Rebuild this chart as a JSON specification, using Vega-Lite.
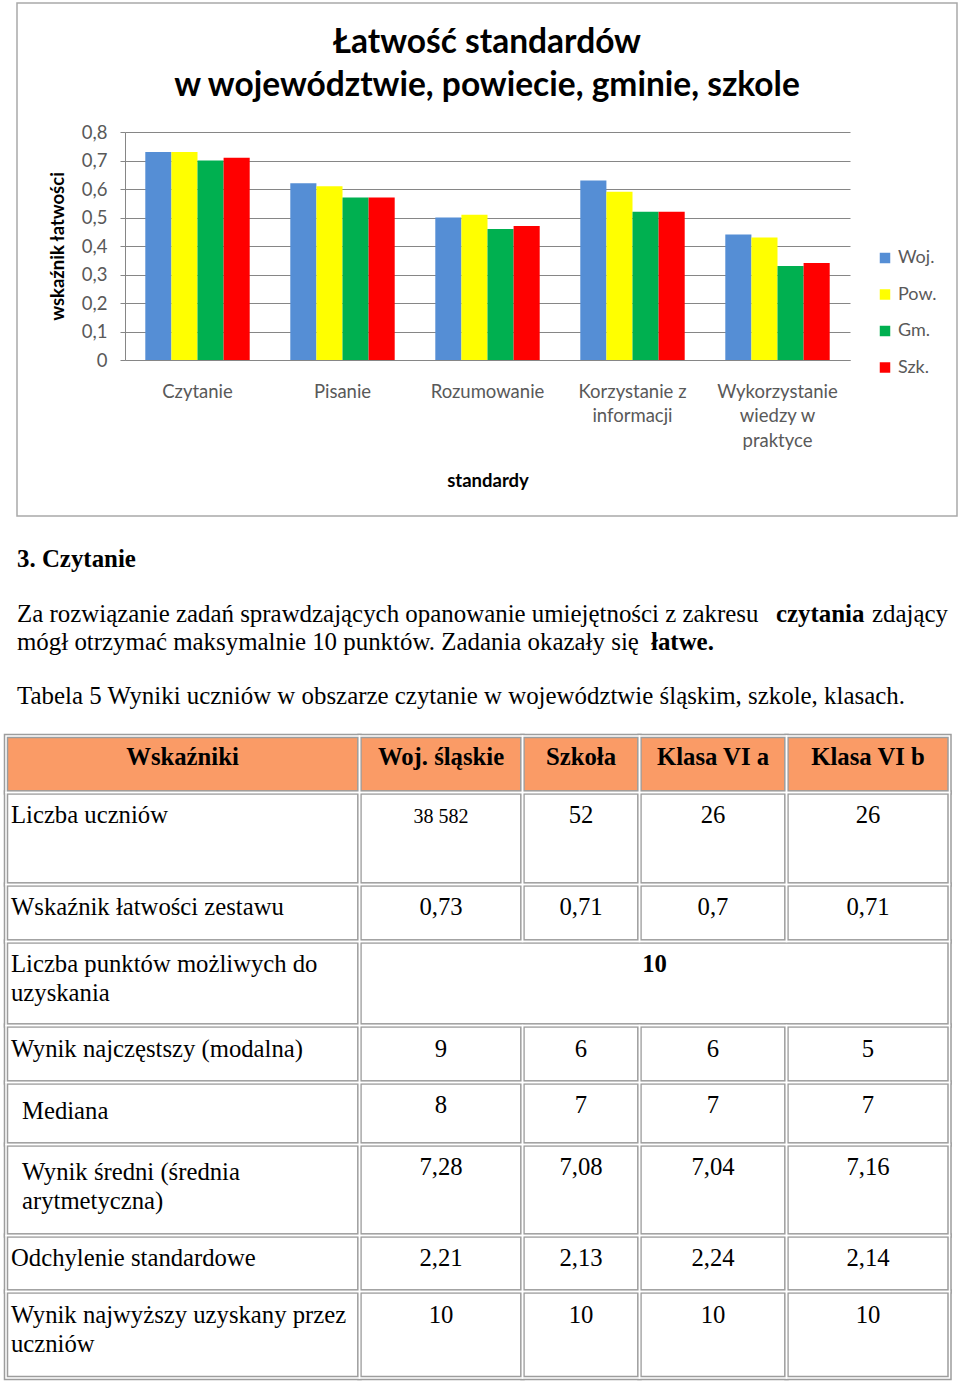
{
  "$schema": "https://vega.github.io/schema/vega-lite/v6.json",
  "width": 960,
  "height": 1382,
  "autosize": "none",
  "padding": 0,
  "background": "#ffffff",
  "config": {"view": {"stroke": null}},
  "datasets": {
    "bars": [
      {"standard": "Czytanie", "series": "Woj.", "value": 0.73},
      {"standard": "Czytanie", "series": "Pow.", "value": 0.73},
      {"standard": "Czytanie", "series": "Gm.", "value": 0.70},
      {"standard": "Czytanie", "series": "Szk.", "value": 0.71},
      {"standard": "Pisanie", "series": "Woj.", "value": 0.62},
      {"standard": "Pisanie", "series": "Pow.", "value": 0.61},
      {"standard": "Pisanie", "series": "Gm.", "value": 0.57},
      {"standard": "Pisanie", "series": "Szk.", "value": 0.57},
      {"standard": "Rozumowanie", "series": "Woj.", "value": 0.50},
      {"standard": "Rozumowanie", "series": "Pow.", "value": 0.51},
      {"standard": "Rozumowanie", "series": "Gm.", "value": 0.46},
      {"standard": "Rozumowanie", "series": "Szk.", "value": 0.47},
      {"standard": "Korzystanie z informacji", "series": "Woj.", "value": 0.63},
      {"standard": "Korzystanie z informacji", "series": "Pow.", "value": 0.59},
      {"standard": "Korzystanie z informacji", "series": "Gm.", "value": 0.52},
      {"standard": "Korzystanie z informacji", "series": "Szk.", "value": 0.52},
      {"standard": "Wykorzystanie wiedzy w praktyce", "series": "Woj.", "value": 0.44},
      {"standard": "Wykorzystanie wiedzy w praktyce", "series": "Pow.", "value": 0.43},
      {"standard": "Wykorzystanie wiedzy w praktyce", "series": "Gm.", "value": 0.33},
      {"standard": "Wykorzystanie wiedzy w praktyce", "series": "Szk.", "value": 0.34}
    ],
    "chartTitle": [
      {"title": "Łatwość standardów", "line": 0},
      {"title": "w województwie, powiecie, gminie, szkole", "line": 1}
    ],
    "bodyText": [
      {"line": 0, "seg": 0, "weight": "bold", "text": "3. Czytanie"},
      {"line": 1, "seg": 0, "weight": "normal", "text": "Za rozwiązanie zadań sprawdzających opanowanie umiejętności z zakresu"},
      {"line": 1, "seg": 2, "weight": "bold", "text": "czytania"},
      {"line": 1, "seg": 3, "weight": "normal", "text": "zdający"},
      {"line": 2, "seg": 0, "weight": "normal", "text": "mógł otrzymać maksymalnie 10 punktów. Zadania okazały się"},
      {"line": 2, "seg": 1, "weight": "bold", "text": "łatwe."},
      {"line": 3, "seg": 0, "weight": "normal", "text": "Tabela 5 Wyniki uczniów w obszarze czytanie w województwie śląskim, szkole, klasach."}
    ],
    "cells": [
      {"r0": 0, "r1": 1, "c0": 0, "c1": 1, "part": "header"},
      {"r0": 0, "r1": 1, "c0": 1, "c1": 2, "part": "header"},
      {"r0": 0, "r1": 1, "c0": 2, "c1": 3, "part": "header"},
      {"r0": 0, "r1": 1, "c0": 3, "c1": 4, "part": "header"},
      {"r0": 0, "r1": 1, "c0": 4, "c1": 5, "part": "header"},
      {"r0": 1, "r1": 2, "c0": 0, "c1": 1, "part": "body"},
      {"r0": 1, "r1": 2, "c0": 1, "c1": 2, "part": "body"},
      {"r0": 1, "r1": 2, "c0": 2, "c1": 3, "part": "body"},
      {"r0": 1, "r1": 2, "c0": 3, "c1": 4, "part": "body"},
      {"r0": 1, "r1": 2, "c0": 4, "c1": 5, "part": "body"},
      {"r0": 2, "r1": 3, "c0": 0, "c1": 1, "part": "body"},
      {"r0": 2, "r1": 3, "c0": 1, "c1": 2, "part": "body"},
      {"r0": 2, "r1": 3, "c0": 2, "c1": 3, "part": "body"},
      {"r0": 2, "r1": 3, "c0": 3, "c1": 4, "part": "body"},
      {"r0": 2, "r1": 3, "c0": 4, "c1": 5, "part": "body"},
      {"r0": 3, "r1": 4, "c0": 0, "c1": 1, "part": "body"},
      {"r0": 3, "r1": 4, "c0": 1, "c1": 5, "part": "body"},
      {"r0": 4, "r1": 5, "c0": 0, "c1": 1, "part": "body"},
      {"r0": 4, "r1": 5, "c0": 1, "c1": 2, "part": "body"},
      {"r0": 4, "r1": 5, "c0": 2, "c1": 3, "part": "body"},
      {"r0": 4, "r1": 5, "c0": 3, "c1": 4, "part": "body"},
      {"r0": 4, "r1": 5, "c0": 4, "c1": 5, "part": "body"},
      {"r0": 5, "r1": 6, "c0": 0, "c1": 1, "part": "body"},
      {"r0": 5, "r1": 6, "c0": 1, "c1": 2, "part": "body"},
      {"r0": 5, "r1": 6, "c0": 2, "c1": 3, "part": "body"},
      {"r0": 5, "r1": 6, "c0": 3, "c1": 4, "part": "body"},
      {"r0": 5, "r1": 6, "c0": 4, "c1": 5, "part": "body"},
      {"r0": 6, "r1": 7, "c0": 0, "c1": 1, "part": "body"},
      {"r0": 6, "r1": 7, "c0": 1, "c1": 2, "part": "body"},
      {"r0": 6, "r1": 7, "c0": 2, "c1": 3, "part": "body"},
      {"r0": 6, "r1": 7, "c0": 3, "c1": 4, "part": "body"},
      {"r0": 6, "r1": 7, "c0": 4, "c1": 5, "part": "body"},
      {"r0": 7, "r1": 8, "c0": 0, "c1": 1, "part": "body"},
      {"r0": 7, "r1": 8, "c0": 1, "c1": 2, "part": "body"},
      {"r0": 7, "r1": 8, "c0": 2, "c1": 3, "part": "body"},
      {"r0": 7, "r1": 8, "c0": 3, "c1": 4, "part": "body"},
      {"r0": 7, "r1": 8, "c0": 4, "c1": 5, "part": "body"},
      {"r0": 8, "r1": 9, "c0": 0, "c1": 1, "part": "body"},
      {"r0": 8, "r1": 9, "c0": 1, "c1": 2, "part": "body"},
      {"r0": 8, "r1": 9, "c0": 2, "c1": 3, "part": "body"},
      {"r0": 8, "r1": 9, "c0": 3, "c1": 4, "part": "body"},
      {"r0": 8, "r1": 9, "c0": 4, "c1": 5, "part": "body"}
    ],
    "cellText": [
      {"row": 0, "col": 0, "part": "header", "text": "Wskaźniki"},
      {"row": 0, "col": 1, "part": "header", "text": "Woj. śląskie"},
      {"row": 0, "col": 2, "part": "header", "text": "Szkoła"},
      {"row": 0, "col": 3, "part": "header", "text": "Klasa VI a"},
      {"row": 0, "col": 4, "part": "header", "text": "Klasa VI b"},
      {"row": 1, "col": 0, "part": "label", "text": "Liczba uczniów"},
      {"row": 2, "col": 0, "part": "label", "text": "Wskaźnik łatwości zestawu"},
      {"row": 3, "col": 0, "part": "label", "text": "Liczba punktów możliwych do\nuzyskania"},
      {"row": 4, "col": 0, "part": "label", "text": "Wynik najczęstszy (modalna)"},
      {"row": 5, "col": 0, "part": "label indented", "text": "Mediana"},
      {"row": 6, "col": 0, "part": "label indented", "text": "Wynik średni (średnia\narytmetyczna)"},
      {"row": 7, "col": 0, "part": "label", "text": "Odchylenie standardowe"},
      {"row": 8, "col": 0, "part": "label", "text": "Wynik najwyższy uzyskany przez\nuczniów"},
      {"row": 1, "col": 1, "part": "value", "text": "38 582"},
      {"row": 1, "col": 2, "part": "value", "text": "52"},
      {"row": 1, "col": 3, "part": "value", "text": "26"},
      {"row": 1, "col": 4, "part": "value", "text": "26"},
      {"row": 2, "col": 1, "part": "value", "text": "0,73"},
      {"row": 2, "col": 2, "part": "value", "text": "0,71"},
      {"row": 2, "col": 3, "part": "value", "text": "0,7"},
      {"row": 2, "col": 4, "part": "value", "text": "0,71"},
      {"row": 3, "col": 5, "part": "merged", "text": "10"},
      {"row": 4, "col": 1, "part": "value", "text": "9"},
      {"row": 4, "col": 2, "part": "value", "text": "6"},
      {"row": 4, "col": 3, "part": "value", "text": "6"},
      {"row": 4, "col": 4, "part": "value", "text": "5"},
      {"row": 5, "col": 1, "part": "value", "text": "8"},
      {"row": 5, "col": 2, "part": "value", "text": "7"},
      {"row": 5, "col": 3, "part": "value", "text": "7"},
      {"row": 5, "col": 4, "part": "value", "text": "7"},
      {"row": 6, "col": 1, "part": "value", "text": "7,28"},
      {"row": 6, "col": 2, "part": "value", "text": "7,08"},
      {"row": 6, "col": 3, "part": "value", "text": "7,04"},
      {"row": 6, "col": 4, "part": "value", "text": "7,16"},
      {"row": 7, "col": 1, "part": "value", "text": "2,21"},
      {"row": 7, "col": 2, "part": "value", "text": "2,13"},
      {"row": 7, "col": 3, "part": "value", "text": "2,24"},
      {"row": 7, "col": 4, "part": "value", "text": "2,14"},
      {"row": 8, "col": 1, "part": "value", "text": "10"},
      {"row": 8, "col": 2, "part": "value", "text": "10"},
      {"row": 8, "col": 3, "part": "value", "text": "10"},
      {"row": 8, "col": 4, "part": "value", "text": "10"}
    ]
  },
  "resolve": {"scale": {"x": "independent", "y": "independent", "color": "independent", "fill": "independent", "size": "independent"}},
  "layer": [
    {
      "data": {"values": [{"box": "chart area"}]},
      "mark": {"type": "rect", "filled": false, "stroke": "#a9a9a9", "strokeWidth": 1.5},
      "encoding": {
        "x": {"datum": 0, "type": "quantitative", "scale": {"domain": [0, 1], "range": [17, 957], "nice": false, "zero": false}, "axis": null},
        "x2": {"datum": 1},
        "y": {"datum": 0, "type": "quantitative", "scale": {"domain": [0, 1], "range": [3, 516], "nice": false, "zero": false}, "axis": null},
        "y2": {"datum": 1}
      }
    },
    {
      "data": {"name": "chartTitle"},
      "mark": {"type": "text", "font": "Lato", "fontSize": 33.5, "fontWeight": "bold", "align": "center", "baseline": "middle", "color": "#000000"},
      "encoding": {
        "x": {"datum": 0.5, "type": "quantitative", "scale": {"domain": [0, 1], "range": [17, 957], "nice": false, "zero": false}, "axis": null},
        "y": {"field": "line", "type": "quantitative", "scale": {"domain": [0, 1], "range": [43, 86], "nice": false, "zero": false}, "axis": null},
        "text": {"field": "title"}
      }
    },
    {
      "data": {"name": "bars"},
      "mark": {"type": "bar"},
      "encoding": {
        "x": {
          "field": "standard", "type": "nominal",
          "sort": ["Czytanie", "Pisanie", "Rozumowanie", "Korzystanie z informacji", "Wykorzystanie wiedzy w praktyce"],
          "scale": {"range": [125, 850], "paddingInner": 0.28, "paddingOuter": 0.14},
          "axis": {
            "orient": "bottom", "offset": -1022, "title": "standardy", "zindex": 1,
            "ticks": false, "domain": true, "domainColor": "#868686", "domainWidth": 1,
            "labelExpr": "datum.value == 'Korzystanie z informacji' ? ['Korzystanie z', 'informacji'] : datum.value == 'Wykorzystanie wiedzy w praktyce' ? ['Wykorzystanie', 'wiedzy w', 'praktyce'] : datum.label",
            "labelAngle": 0, "labelFont": "Lato", "labelFontSize": 18.5, "labelColor": "#595959",
            "labelLineHeight": 24.5, "labelPadding": 22, "labelBaseline": "top", "labelLimit": 0,
            "titleFont": "Lato", "titleFontSize": 18.5, "titleFontWeight": "bold", "titleColor": "#000000",
            "titleY": 120, "titleBaseline": "middle"
          }
        },
        "xOffset": {"field": "series", "type": "nominal", "sort": ["Woj.", "Pow.", "Gm.", "Szk."], "scale": {"paddingInner": 0, "paddingOuter": 0}},
        "y": {
          "field": "value", "type": "quantitative",
          "scale": {"domain": [0, 0.8], "range": [360, 132], "nice": false, "zero": false},
          "axis": {
            "orient": "left", "offset": -125, "title": "wskaźnik łatwości",
            "values": [0, 0.1, 0.2, 0.3, 0.4, 0.5, 0.6, 0.7, 0.8],
            "labelExpr": "datum.value == 0 ? '0' : replace(format(datum.value, '.1f'), '.', ',')",
            "labelFont": "Lato", "labelFontSize": 18.5, "labelColor": "#595959", "labelPadding": 13, "labelOverlap": false,
            "ticks": true, "tickSize": 5, "tickColor": "#868686",
            "domain": true, "domainColor": "#868686",
            "grid": true, "gridColor": "#868686", "gridWidth": 1,
            "titleFont": "Lato", "titleFontSize": 18.5, "titleFontWeight": "bold", "titleColor": "#000000",
            "titleAngle": 270, "titleX": -68, "titleY": 246, "titleBaseline": "middle", "titleAlign": "center"
          }
        },
        "color": {
          "field": "series", "type": "nominal",
          "sort": ["Woj.", "Pow.", "Gm.", "Szk."],
          "scale": {"domain": ["Woj.", "Pow.", "Gm.", "Szk."], "range": ["#558ed5", "#ffff00", "#00b050", "#ff0000"]},
          "legend": {
            "orient": "none", "legendX": 876, "legendY": 249, "title": null,
            "symbolType": "square", "symbolSize": 110, "symbolStrokeWidth": 0,
            "labelFont": "Lato", "labelFontSize": 18, "labelColor": "#595959",
            "rowPadding": 18.5, "labelOffset": 4
          }
        }
      }
    },
    {
      "data": {"name": "cells"},
      "mark": {"type": "rect", "stroke": "#9d9d9d", "strokeWidth": 4.5},
      "encoding": {
        "x": {"field": "c0", "type": "quantitative", "scale": {"domain": [0, 1, 2, 3, 4, 5], "range": [6, 359.5, 522.5, 639.5, 786.5, 949.5], "nice": false, "zero": false}, "axis": null},
        "x2": {"field": "c1"},
        "y": {"field": "r0", "type": "quantitative", "scale": {"domain": [0, 1, 2, 3, 4, 5, 6, 7, 8, 9], "range": [736, 792.5, 884.5, 941.5, 1025.5, 1082.5, 1144.5, 1235.5, 1291.5, 1378], "nice": false, "zero": false}, "axis": null},
        "y2": {"field": "r1"},
        "fill": {"field": "part", "type": "nominal", "scale": {"domain": ["header", "body"], "range": ["#fa9b66", "#ffffff"]}, "legend": null}
      }
    },
    {
      "data": {"name": "cells"},
      "mark": {"type": "rect", "filled": false, "stroke": "#ffffff", "strokeWidth": 1.5},
      "encoding": {
        "x": {"field": "c0", "type": "quantitative", "scale": {"domain": [0, 1, 2, 3, 4, 5], "range": [6, 359.5, 522.5, 639.5, 786.5, 949.5], "nice": false, "zero": false}, "axis": null},
        "x2": {"field": "c1"},
        "y": {"field": "r0", "type": "quantitative", "scale": {"domain": [0, 1, 2, 3, 4, 5, 6, 7, 8, 9], "range": [736, 792.5, 884.5, 941.5, 1025.5, 1082.5, 1144.5, 1235.5, 1291.5, 1378], "nice": false, "zero": false}, "axis": null},
        "y2": {"field": "r1"}
      }
    },
    {
      "data": {"name": "cellText"},
      "transform": [{"filter": "datum.part == 'header' || datum.part == 'merged'"}],
      "mark": {"type": "text", "font": "Liberation Serif", "fontSize": 24.7, "fontWeight": "bold", "align": "center", "baseline": "alphabetic", "color": "#000000"},
      "encoding": {
        "x": {"field": "col", "type": "quantitative", "scale": {"domain": [0, 1, 2, 3, 4, 5], "range": [182.5, 441, 581, 713, 868, 654.5], "nice": false, "zero": false}, "axis": null},
        "y": {"field": "row", "type": "quantitative", "scale": {"domain": [0, 3], "range": [765, 972], "nice": false, "zero": false}, "axis": null},
        "text": {"field": "text"}
      }
    },
    {
      "data": {"name": "cellText"},
      "transform": [{"filter": "datum.part == 'label'"}],
      "mark": {"type": "text", "font": "Liberation Serif", "fontSize": 24.7, "align": "left", "baseline": "alphabetic", "lineBreak": "\n", "lineHeight": 28.5, "color": "#000000"},
      "encoding": {
        "x": {"field": "col", "type": "quantitative", "scale": {"domain": [0, 1], "range": [11, 359], "nice": false, "zero": false}, "axis": null},
        "y": {"field": "row", "type": "quantitative", "scale": {"domain": [1, 2, 3, 4, 5, 6, 7, 8], "range": [823, 915, 972, 1057, 1119, 1180, 1266, 1323], "nice": false, "zero": false}, "axis": null},
        "text": {"field": "text"}
      }
    },
    {
      "data": {"name": "cellText"},
      "transform": [{"filter": "datum.part == 'label indented'"}],
      "mark": {"type": "text", "font": "Liberation Serif", "fontSize": 24.7, "align": "left", "baseline": "alphabetic", "lineBreak": "\n", "lineHeight": 28.5, "color": "#000000"},
      "encoding": {
        "x": {"field": "col", "type": "quantitative", "scale": {"domain": [0, 1], "range": [22, 359], "nice": false, "zero": false}, "axis": null},
        "y": {"field": "row", "type": "quantitative", "scale": {"domain": [5, 6], "range": [1119, 1180], "nice": false, "zero": false}, "axis": null},
        "text": {"field": "text"}
      }
    },
    {
      "data": {"name": "cellText"},
      "transform": [{"filter": "datum.part == 'value'"}],
      "mark": {"type": "text", "font": "Liberation Serif", "align": "center", "baseline": "alphabetic", "color": "#000000"},
      "encoding": {
        "x": {"field": "col", "type": "quantitative", "scale": {"domain": [1, 2, 3, 4], "range": [441, 581, 713, 868], "nice": false, "zero": false}, "axis": null},
        "y": {"field": "row", "type": "quantitative", "scale": {"domain": [1, 2, 3, 4, 5, 6, 7, 8], "range": [823, 915, 972, 1057, 1113, 1175, 1266, 1323], "nice": false, "zero": false}, "axis": null},
        "size": {"condition": {"test": "datum.text == '38 582'", "value": 20}, "value": 24.7},
        "text": {"field": "text"}
      }
    },
    {
      "data": {"name": "bodyText"},
      "transform": [{"filter": "datum.weight == 'normal'"}],
      "mark": {"type": "text", "font": "Liberation Serif", "fontSize": 24.9, "align": "left", "baseline": "alphabetic", "color": "#000000"},
      "encoding": {
        "x": {"field": "seg", "type": "quantitative", "scale": {"domain": [0, 1, 2, 3], "range": [17, 651, 776, 872], "nice": false, "zero": false}, "axis": null},
        "y": {"field": "line", "type": "quantitative", "scale": {"domain": [0, 1, 2, 3], "range": [567, 622, 650, 704], "nice": false, "zero": false}, "axis": null},
        "text": {"field": "text"}
      }
    },
    {
      "data": {"name": "bodyText"},
      "transform": [{"filter": "datum.weight == 'bold'"}],
      "mark": {"type": "text", "font": "Liberation Serif", "fontSize": 24.9, "fontWeight": "bold", "align": "left", "baseline": "alphabetic", "color": "#000000"},
      "encoding": {
        "x": {"field": "seg", "type": "quantitative", "scale": {"domain": [0, 1, 2, 3], "range": [17, 651, 776, 872], "nice": false, "zero": false}, "axis": null},
        "y": {"field": "line", "type": "quantitative", "scale": {"domain": [0, 1, 2, 3], "range": [567, 622, 650, 704], "nice": false, "zero": false}, "axis": null},
        "text": {"field": "text"}
      }
    }
  ]
}
